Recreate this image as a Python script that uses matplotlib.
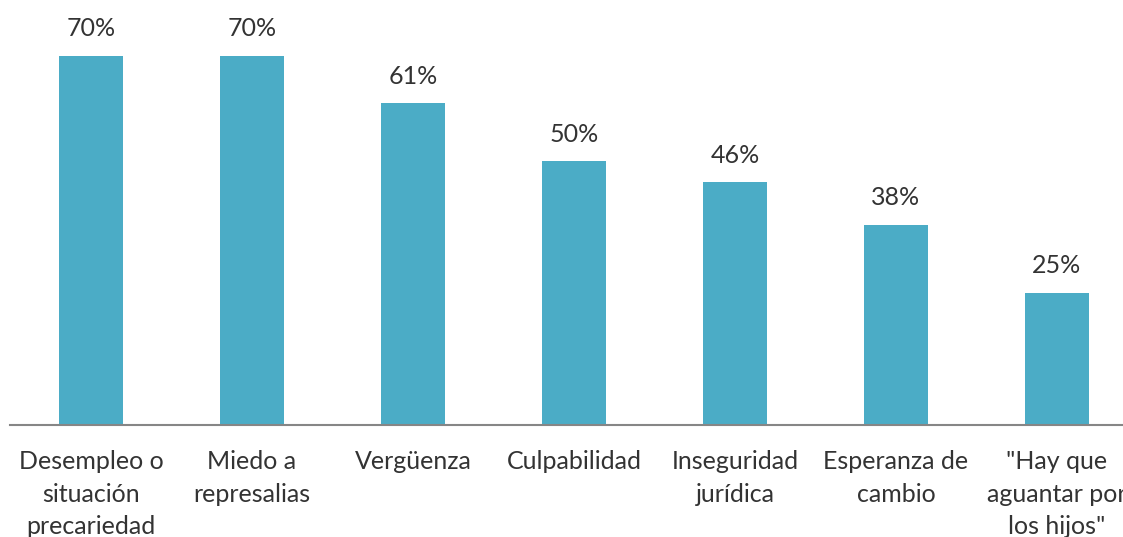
import numpy as np
import matplotlib.pyplot as plt

categorias = ["Desempleo o\nsituación\nprecariedad", "Miedo a\nrepresalias", "Vergüenza",
              "Culpabilidad", "Inseguridad\njurídica", "Esperanza de\ncambio",
              "\"Hay que\naguantar por\nlos hijos\""]
valores = [70, 70, 61, 50, 46, 38, 25]

plt.rcParams['font.family'] = ['Lato', 'DejaVu Sans']

fig = plt.figure(figsize=(11.23, 5.37), dpi=100)
ax = fig.add_axes([10 / 1123, 112 / 537, 1 - 10 / 1123, 425 / 537])

x = np.arange(len(valores))
bars = ax.bar(x, valores, width=0.40, color="#4BACC6")

# etiquetas de porcentaje sobre cada barra
for b, v in zip(bars, valores):
    ax.text(b.get_x() + b.get_width() / 2, v + 3.0, f"{v}%", ha="center", va="bottom",
            fontsize=18, color="#333333")

ax.set_xlim(-0.503, 6.41)
ax.set_ylim(0, 80.6)
ax.set_xticks(x)
ax.set_xticklabels(categorias, fontsize=18, color="#333333", linespacing=1.5, va="top")
ax.tick_params(axis="x", length=0, pad=18)
ax.set_yticks([])
for s in ["top", "right", "left"]:
    ax.spines[s].set_visible(False)
ax.spines["bottom"].set_color("#868686")
ax.spines["bottom"].set_linewidth(1.5)

fig.savefig("out.png", dpi=100)
